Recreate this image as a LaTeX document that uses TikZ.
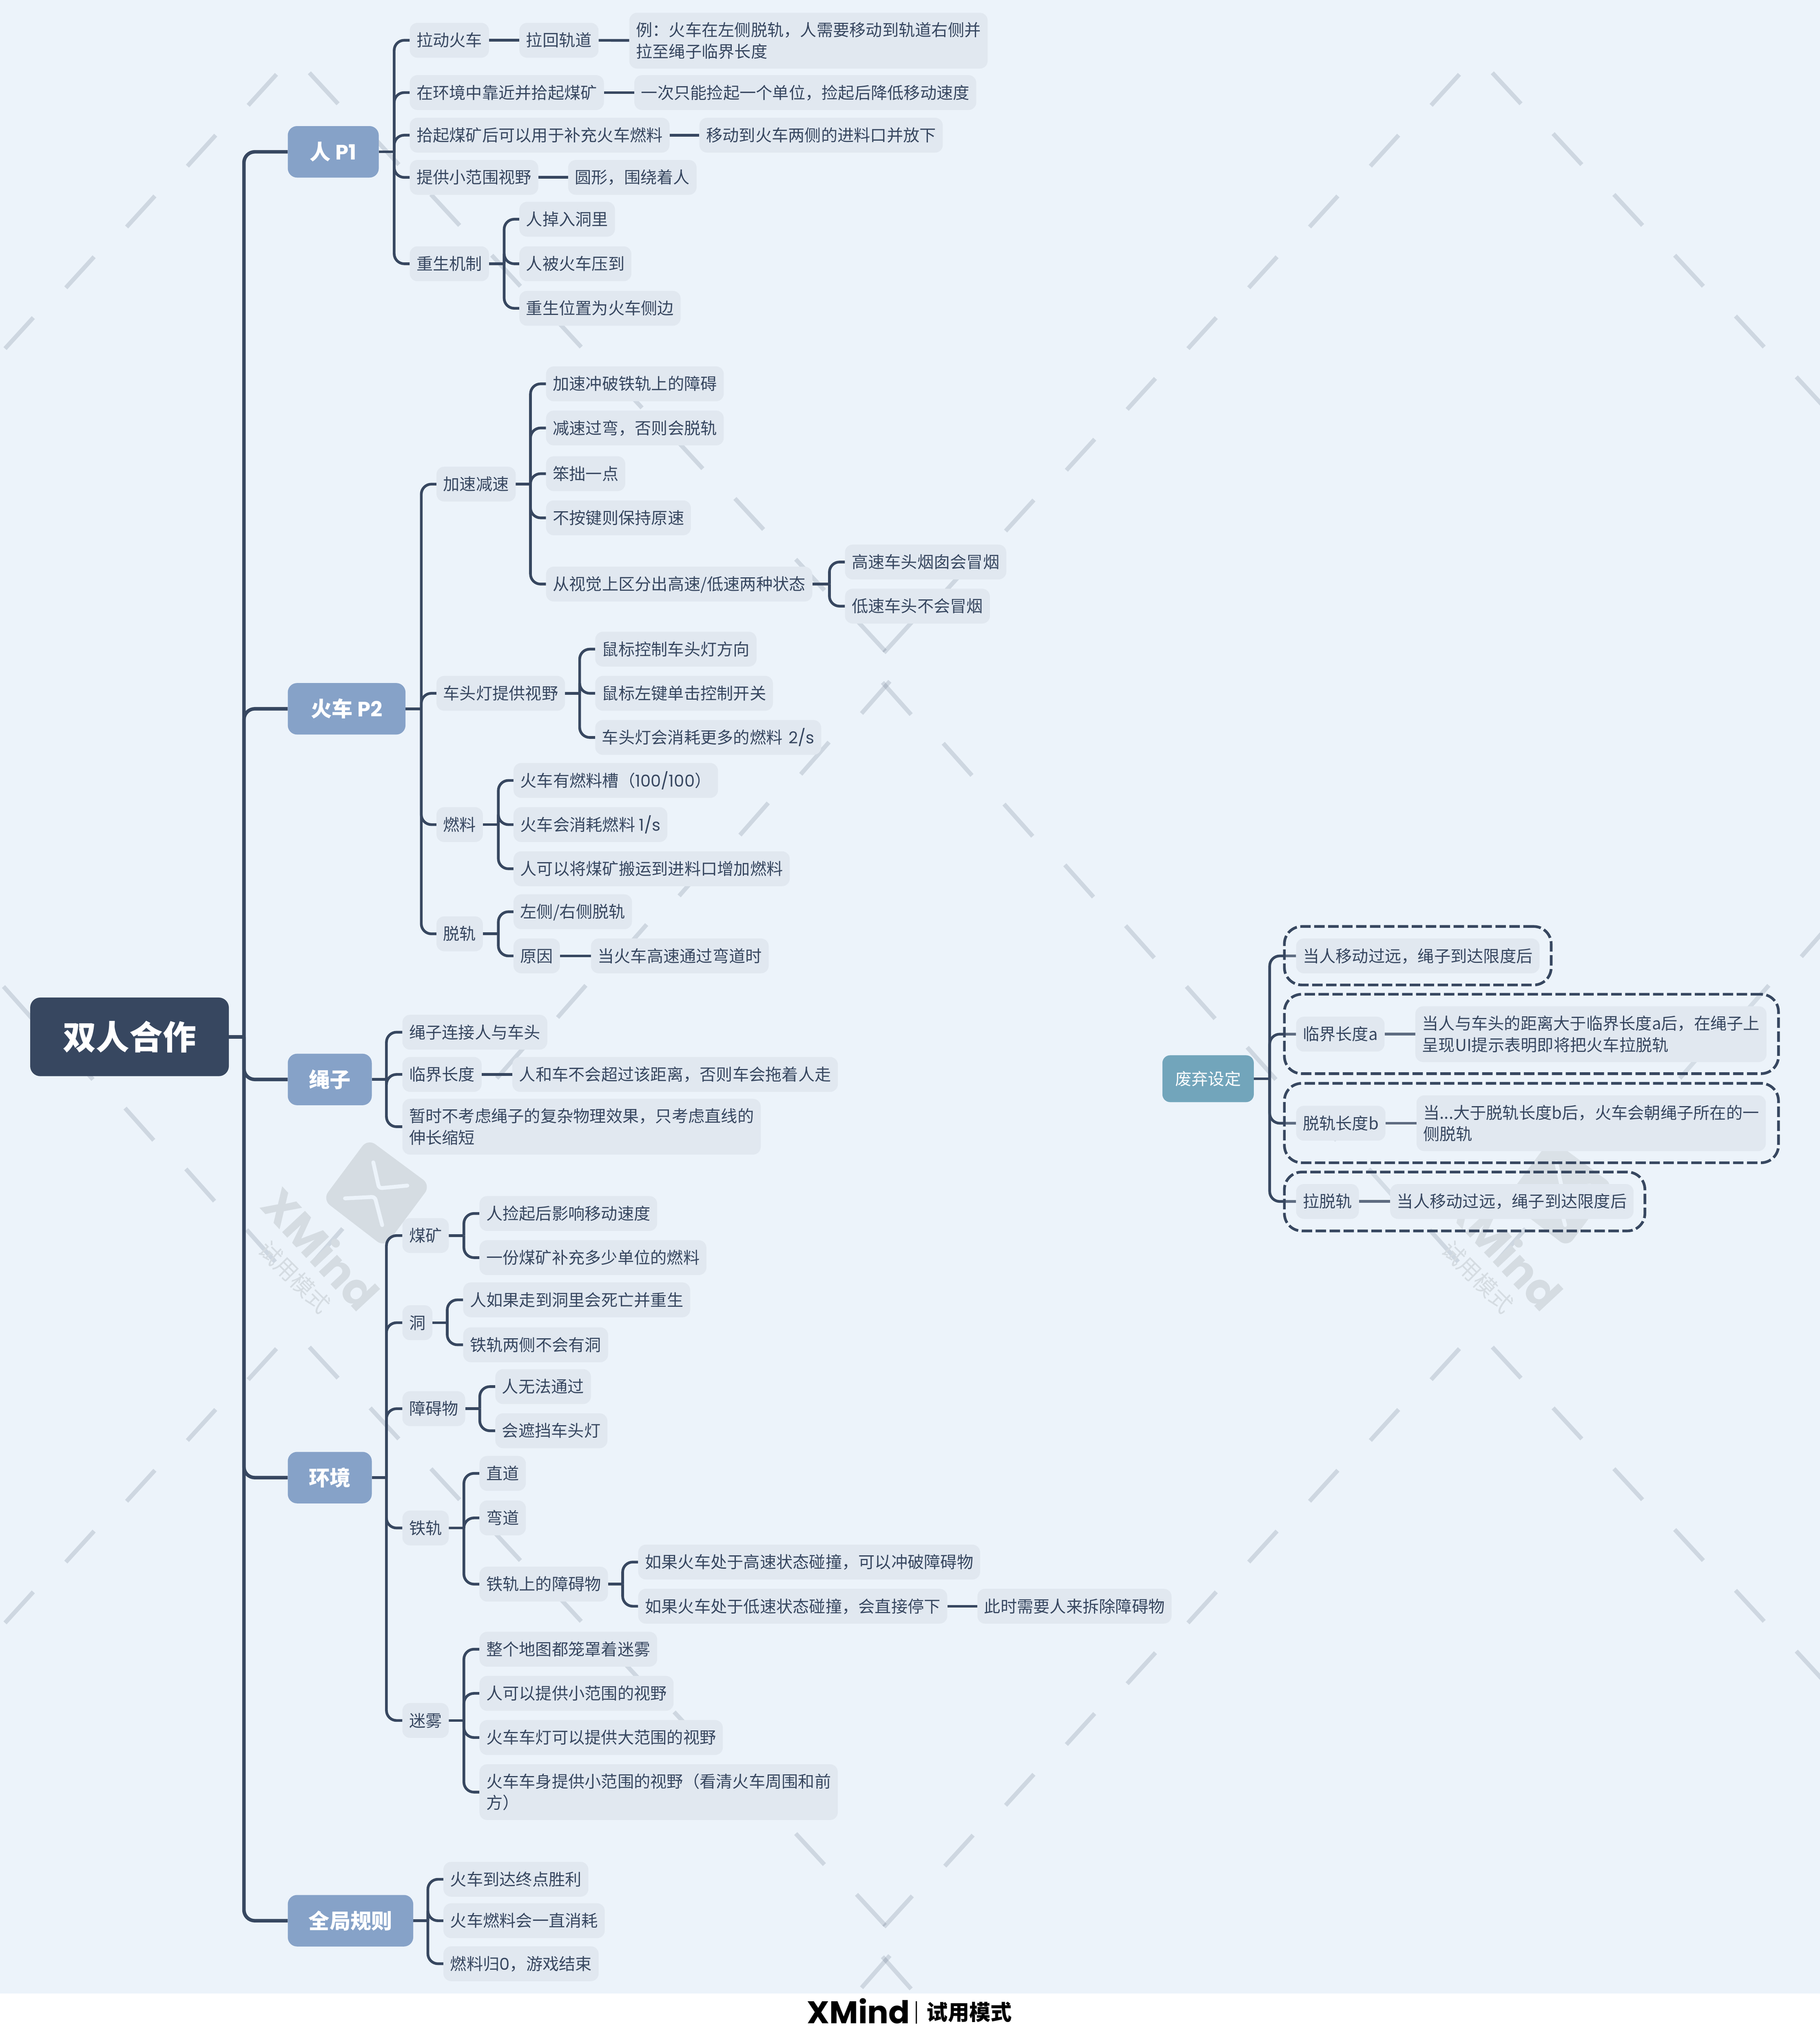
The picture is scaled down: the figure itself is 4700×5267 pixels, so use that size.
\documentclass[tikz,border=0pt]{standalone}
\usepackage{fontspec}
\setmainfont{Noto Sans CJK SC}
\newfontfamily\brandfont{Poppins}
\newcommand{\la}[1]{{\brandfont #1}}
\definecolor{pagebg}{HTML}{ECF3FA}
\definecolor{ink}{HTML}{374760}
\definecolor{leaf}{HTML}{E1E8F0}
\definecolor{maincol}{HTML}{86A2C8}
\definecolor{floatcol}{HTML}{72A5BB}
\definecolor{wmark}{HTML}{D5DCE2}
\pgfdeclarelayer{wlayer}\pgfdeclarelayer{clayer}\pgfdeclarelayer{blayer}
\pgfsetlayers{wlayer,clayer,blayer,main}
\tikzset{
 tp/.style={fill=leaf,rounded corners=20,anchor=west,inner xsep=17.5,inner ysep=0,minimum height=90,text=ink,text height=37,text depth=5,yshift=-1pt,font=\fontsize{42.4}{55}\selectfont},
 tw/.style={fill=leaf,rounded corners=20,anchor=west,inner xsep=17.5,inner ysep=0,minimum height=144,text=ink,align=left,yshift=-1pt,font=\fontsize{42.4}{55}\selectfont},
 mt/.style={fill=maincol,rounded corners=24,anchor=west,inner sep=0,minimum height=133,text=white,text height=47,text depth=6,yshift=-1pt,font=\fontsize{54}{60}\selectfont\bfseries},
 rootbox/.style={fill=ink,rounded corners=26,inner sep=0,minimum width=513,minimum height=203,text=white,font=\fontsize{86}{90}\selectfont\bfseries},
 floatbox/.style={fill=floatcol,rounded corners=20,inner sep=0,minimum width=236,minimum height=121,text=white,text height=37,text depth=5,font=\fontsize{42.4}{55}\selectfont},
 dbox/.style={draw=ink,line width=7,dash pattern=on 27pt off 9pt,rounded corners=45,fill=pagebg,fill opacity=.22,inner sep=0},
 conn/.style={draw=ink,line width=7,rounded corners=26,line cap=butt},
 trunkline/.style={draw=ink,line width=9,rounded corners=28},
 wdash/.style={draw=ink,draw opacity=.16,line width=11},
}
\newcommand{\twig}[4][conn]{%
 \foreach \c in {#4}{\draw[#1] (#2.east -| #3) |- (\c.west);}%
 \draw[#1] (#2.east) -- (#2.east -| #3);}
\begin{document}
\begin{tikzpicture}[x=1pt,y=-1pt]
\useasboundingbox (0,0) rectangle (4700,5267);
\begin{pgfonlayer}{wlayer}
 \fill[white] (0,0) rectangle (4700,5267);
 \fill[pagebg] (0,0) rectangle (4700,5147);
 \begin{scope}
 \clip (0,0) rectangle (4700,5147);
 \foreach \i in {-1,0,1}{\foreach \j in {-1,0,1}{\foreach \k in {0,...,9}{
  \pgfmathsetmacro{\ox}{3055*\i}
  \pgfmathsetmacro{\oy}{3290*\j}
  \pgfmathsetmacro{\st}{157*\k}
  \begin{scope}[xshift=\ox pt,yshift=-\oy pt]
  \draw[wdash] (799+\st,188+\st) -- ++(74,80);
  \draw[wdash] (714-\st,192+\st) -- ++(-73,80);
  \draw[wdash] (2279+\st,1762+\st) -- ++(74,83);
  \draw[wdash] (2298-\st,1759+\st) -- ++(-73,83);
  \end{scope}
 }}}
 \foreach \ox in {0,3055}{
 \begin{scope}[xshift=\ox pt]
  \fill[wmark,rounded corners=24] (950,2940) -- (1112,3060) -- (993,3220) -- (833,3097) -- cycle;
  \draw[pagebg,line width=10,line cap=round,rounded corners=8] (964,3001) -- (979,3068) -- (1052,3061);
  \draw[pagebg,line width=10,line cap=round,rounded corners=8] (891,3094) -- (968,3090) -- (987,3163);
  \node[text=wmark,rotate=-47,font=\brandfont\fontsize{115}{115}\selectfont\bfseries] (wx\ox) at (830,3223) {XMind};
  \node[text=wmark,rotate=-45,font=\fontsize{58}{58}\selectfont] (wy\ox) at (761,3297) {试用模式};
 \end{scope}}
 \end{scope}
\end{pgfonlayer}

% trunk x positions
\coordinate (T0) at (630,0);
\coordinate (Tp1) at (1018,0);\coordinate (Tres) at (1302,0);
\coordinate (Tp2) at (1088,0);\coordinate (Tacc) at (1370,0);\coordinate (Tvis) at (2142,0);
\coordinate (Tlamp) at (1497,0);\coordinate (Tfuel) at (1287,0);\coordinate (Tder) at (1287,0);
\coordinate (Trope) at (998,0);\coordinate (Tenv) at (998,0);
\coordinate (Tcoal) at (1198,0);\coordinate (Thole) at (1155,0);\coordinate (Tobs) at (1239,0);
\coordinate (Trail) at (1198,0);\coordinate (Tro) at (1608,0);\coordinate (Tfog) at (1198,0);
\coordinate (Trule) at (1105,0);\coordinate (Tdrop) at (3279,0);

\node[rootbox] (root) at (334.5,2677) {双人合作};
\node[mt,minimum width=235] (p1) at (743,391) {人 \la{P1}};
\node[mt,minimum width=304] (p2) at (743,1829) {火车 \la{P2}};
\node[mt,minimum width=217] (rope) at (743,2786) {绳子};
\node[mt,minimum width=217] (env) at (743,3814) {环境};
\node[mt,minimum width=324] (rules) at (743,4958) {全局规则};

% P1
\node[tp] (a1) at (1058,103) {拉动火车};
\node[tp] (a1a) at (1341,103) {拉回轨道};
\node[tw] (a1b) at (1625,104) {例：火车在左侧脱轨，人需要移动到轨道右侧并\\拉至绳子临界长度};
\node[tp] (a2) at (1058,238) {在环境中靠近并拾起煤矿};
\node[tp] (a2a) at (1638,238) {一次只能捡起一个单位，捡起后降低移动速度};
\node[tp] (a3) at (1058,348) {拾起煤矿后可以用于补充火车燃料};
\node[tp] (a3a) at (1806,348) {移动到火车两侧的进料口并放下};
\node[tp] (a4) at (1058,457) {提供小范围视野};
\node[tp] (a4a) at (1467,457) {圆形，围绕着人};
\node[tp] (a5) at (1058,680) {重生机制};
\node[tp] (a5a) at (1341,565) {人掉入洞里};
\node[tp] (a5b) at (1341,680) {人被火车压到};
\node[tp] (a5c) at (1341,795) {重生位置为火车侧边};

% P2
\node[tp] (b1) at (1127,1249) {加速减速};
\node[tp] (b1a) at (1410,990) {加速冲破铁轨上的障碍};
\node[tp] (b1b) at (1410,1104) {减速过弯，否则会脱轨};
\node[tp] (b1c) at (1410,1222) {笨拙一点};
\node[tp] (b1d) at (1410,1336) {不按键则保持原速};
\node[tp] (b1e) at (1410,1507) {从视觉上区分出高速/低速两种状态};
\node[tp] (b1e1) at (2182,1450) {高速车头烟囱会冒烟};
\node[tp] (b1e2) at (2182,1564) {低速车头不会冒烟};
\node[tp] (b2) at (1127,1789) {车头灯提供视野};
\node[tp] (b2a) at (1537,1675) {鼠标控制车头灯方向};
\node[tp] (b2b) at (1537,1789) {鼠标左键单击控制开关};
\node[tp] (b2c) at (1537,1903) {车头灯会消耗更多的燃料\hspace{6pt} \la{2/s}};
\node[tp] (b3) at (1127,2128) {燃料};
\node[tp] (b3a) at (1326,2014) {火车有燃料槽（\la{100/100}）};
\node[tp] (b3b) at (1326,2128) {火车会消耗燃料 \la{1/s}};
\node[tp] (b3c) at (1326,2242) {人可以将煤矿搬运到进料口增加燃料};
\node[tp] (b4) at (1127,2410) {脱轨};
\node[tp] (b4a) at (1326,2353) {左侧/右侧脱轨};
\node[tp] (b4b) at (1326,2467) {原因};
\node[tp] (b4c) at (1526,2467) {当火车高速通过弯道时};

% rope
\node[tp] (c1) at (1039,2664) {绳子连接人与车头};
\node[tp] (c2) at (1039,2773) {临界长度};
\node[tp] (c2a) at (1323,2773) {人和车不会超过该距离，否则车会拖着人走};
\node[tw] (c3) at (1039,2908) {暂时不考虑绳子的复杂物理效果，只考虑直线的\\伸长缩短};

% environment
\node[tp] (d1) at (1039,3189) {煤矿};
\node[tp] (d1a) at (1238,3132) {人捡起后影响移动速度};
\node[tp] (d1b) at (1238,3246) {一份煤矿补充多少单位的燃料};
\node[tp] (d2) at (1039,3414) {洞};
\node[tp] (d2a) at (1196,3355) {人如果走到洞里会死亡并重生};
\node[tp] (d2b) at (1196,3471) {铁轨两侧不会有洞};
\node[tp] (d3) at (1039,3636) {障碍物};
\node[tp] (d3a) at (1279,3579) {人无法通过};
\node[tp] (d3b) at (1279,3693) {会遮挡车头灯};
\node[tp] (d4) at (1039,3944) {铁轨};
\node[tp] (d4a) at (1238,3803) {直道};
\node[tp] (d4b) at (1238,3918) {弯道};
\node[tp] (d4c) at (1238,4089) {铁轨上的障碍物};
\node[tp] (d4c1) at (1648,4032) {如果火车处于高速状态碰撞，可以冲破障碍物};
\node[tp] (d4c2) at (1648,4146) {如果火车处于低速状态碰撞，会直接停下};
\node[tp] (d4c3) at (2524,4146) {此时需要人来拆除障碍物};
\node[tp] (d5) at (1039,4441) {迷雾};
\node[tp] (d5a) at (1238,4257) {整个地图都笼罩着迷雾};
\node[tp] (d5b) at (1238,4371) {人可以提供小范围的视野};
\node[tp] (d5c) at (1238,4485) {火车车灯可以提供大范围的视野};
\node[tw] (d5d) at (1238,4626) {火车车身提供小范围的视野（看清火车周围和前\\方）};

% global rules
\node[tp] (e1) at (1145,4851) {火车到达终点胜利};
\node[tp] (e2) at (1145,4958) {火车燃料会一直消耗};
\node[tp] (e3) at (1145,5069) {燃料归\la{0}，游戏结束};

% floating topic
\node[floatbox] (fl) at (3120,2785) {废弃设定};
\node[tp] (f1) at (3347,2467) {当人移动过远，绳子到达限度后};
\node[tp] (f2) at (3347,2669) {临界长度a};
\node[tw] (f2a) at (3655,2669) {当人与车头的距离大于临界长度a后，在绳子上\\呈现UI提示表明即将把火车拉脱轨};
\node[tp] (f3) at (3347,2899) {脱轨长度b};
\node[tw] (f3a) at (3658,2899) {当...大于脱轨长度b后，火车会朝绳子所在的一\\侧脱轨};
\node[tp] (f4) at (3347,3101) {拉脱轨};
\node[tp] (f4a) at (3590,3101) {当人移动过远，绳子到达限度后};

\begin{pgfonlayer}{blayer}
 \node[dbox,minimum width=689,minimum height=151] (box1) at (3661.5,2467.5) {};
 \node[dbox,minimum width=1276,minimum height=205] (box2) at (3955,2669.5) {};
 \node[dbox,minimum width=1276,minimum height=205] (box3) at (3955,2899.5) {};
 \node[dbox,minimum width=931,minimum height=152] (box4) at (3782.5,3102) {};
\end{pgfonlayer}

\begin{pgfonlayer}{clayer}
 \twig[trunkline]{root}{T0}{p1,p2,rope,env,rules}
 \twig{p1}{Tp1}{a1,a2,a3,a4,a5}
 \draw[conn] (a1) -- (a1a); \draw[conn] (a1a) -- (a1b);
 \draw[conn] (a2) -- (a2a); \draw[conn] (a3) -- (a3a); \draw[conn] (a4) -- (a4a);
 \twig{a5}{Tres}{a5a,a5b,a5c}
 \twig{p2}{Tp2}{b1,b2,b3,b4}
 \twig{b1}{Tacc}{b1a,b1b,b1c,b1d,b1e}
 \twig{b1e}{Tvis}{b1e1,b1e2}
 \twig{b2}{Tlamp}{b2a,b2b,b2c}
 \twig{b3}{Tfuel}{b3a,b3b,b3c}
 \twig{b4}{Tder}{b4a,b4b}
 \draw[conn] (b4b) -- (b4c);
 \twig{rope}{Trope}{c1,c2,c3}
 \draw[conn] (c2) -- (c2a);
 \twig{env}{Tenv}{d1,d2,d3,d4,d5}
 \twig{d1}{Tcoal}{d1a,d1b}
 \twig{d2}{Thole}{d2a,d2b}
 \twig{d3}{Tobs}{d3a,d3b}
 \twig{d4}{Trail}{d4a,d4b,d4c}
 \twig{d4c}{Tro}{d4c1,d4c2}
 \draw[conn] (d4c2) -- (d4c3);
 \twig{d5}{Tfog}{d5a,d5b,d5c,d5d}
 \twig{rules}{Trule}{e1,e2,e3}
 \twig{fl}{Tdrop}{f1,f2,f3,f4}
 \draw[conn] (f2) -- (f2a); \draw[conn] (f3) -- (f3a); \draw[conn] (f4) -- (f4a);
\end{pgfonlayer}

% footer
\node[anchor=base west,inner sep=0,font=\brandfont\fontsize{81}{81}\selectfont\bfseries] (brand) at (2084,5224) {XMind};
\node[anchor=west,inner sep=0,font=\fontsize{55}{55}\selectfont\bfseries] (trial) at (2393,5195) {试用模式};
\draw[black,line width=3] (2366,5167) -- (2366,5225);
\end{tikzpicture}
\end{document}
